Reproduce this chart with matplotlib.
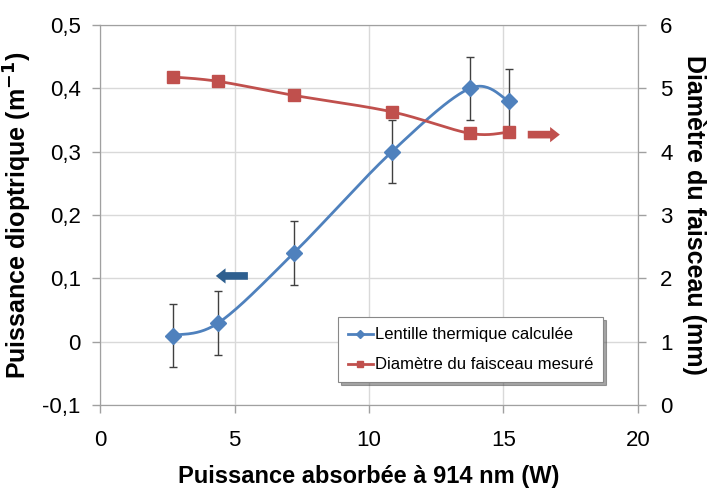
import numpy as np
import matplotlib
matplotlib.use("Agg")
import matplotlib.pyplot as plt
from matplotlib.ticker import FuncFormatter

plt.rcParams['font.family'] = ['Liberation Sans', 'DejaVu Sans']

# donnees
puissance = [2.7, 4.4, 7.2, 10.85, 13.75, 15.2]
lentille = [0.01, 0.03, 0.14, 0.30, 0.40, 0.38]
erreur = [0.05, 0.05, 0.05, 0.05, 0.05, 0.05]
diametre = [5.18, 5.11, 4.89, 4.63, 4.29, 4.31]

blue = '#4F81BD'
red = '#C0504D'


def lisse(x, y, n=30):
    # courbe lissee type Excel (Catmull-Rom)
    x = np.asarray(x, float)
    y = np.asarray(y, float)
    px = np.concatenate([[x[0]], x, [x[-1]]])
    py = np.concatenate([[y[0]], y, [y[-1]]])
    xs, ys = [], []
    t = np.linspace(0, 1, n)
    for i in range(1, len(px) - 2):
        p0, p1, p2, p3 = [np.array([px[j], py[j]]) for j in range(i - 1, i + 3)]
        c1 = p1 + (p2 - p0) / 6
        c2 = p2 - (p3 - p1) / 6
        pts = ((1 - t) ** 3)[:, None] * p1 + (3 * (1 - t) ** 2 * t)[:, None] * c1 \
            + (3 * (1 - t) * t ** 2)[:, None] * c2 + (t ** 3)[:, None] * p2
        xs.extend(pts[:, 0])
        ys.extend(pts[:, 1])
    return xs, ys


fig, ax = plt.subplots(figsize=(7.2, 4.9), dpi=100)
fig.subplots_adjust(left=0.139, right=0.886, top=0.949, bottom=0.173)
ax2 = ax.twinx()

sx, sy = lisse(puissance, lentille)
ax.plot(sx, sy, color=blue, lw=2)
ax.errorbar(puissance, lentille, yerr=erreur, fmt='none', ecolor='#404040',
            elinewidth=1, capsize=3)
ax.plot(puissance, lentille, 'D', color=blue, ms=8)

rx, ry = lisse(puissance, diametre)
ax2.plot(rx, ry, color=red, lw=2)
ax2.plot(puissance, diametre, 's', color=red, ms=9)

# legend handles
h1, = ax.plot([], [], '-D', color=blue, ms=4, lw=2, label='Lentille thermique calculée')
h2, = ax.plot([], [], '-s', color=red, ms=5, lw=2, label='Diamètre du faisceau mesuré')

# fleches
ax.annotate('', xy=(4.2, 0.104), xytext=(5.6, 0.104),
            arrowprops=dict(arrowstyle='simple,head_width=1.1,head_length=0.7,tail_width=0.55',
                            color='#2E5F8F', lw=0))
ax2.annotate('', xy=(17.2, 4.27), xytext=(15.8, 4.27),
             arrowprops=dict(arrowstyle='simple,head_width=1.1,head_length=0.7,tail_width=0.55',
                             color=red, lw=0))

ax.set_xlim(0, 20)
ax.set_ylim(-0.1, 0.5)
ax2.set_ylim(0, 6)
ax.set_xticks([0, 5, 10, 15, 20])
ax.set_yticks(np.arange(-0.1, 0.51, 0.1))
ax2.set_yticks(range(0, 7))
ax.yaxis.set_major_formatter(FuncFormatter(lambda v, p: ('%g' % round(v, 2)).replace('.', ',')))

ax.grid(True, color='#D9D9D9', lw=1)
ax.set_axisbelow(True)
for a in (ax, ax2):
    for s in a.spines.values():
        s.set_color('#A0A0A0')
    a.tick_params(colors='#A0A0A0', labelcolor='black', labelsize=16, length=6, width=1)
ax.tick_params(axis='x', pad=12)
ax.tick_params(axis='y', pad=8)
ax2.tick_params(axis='y', pad=10)

ax.set_xlabel('Puissance absorbée à 914 nm (W)', fontsize=17, fontweight='bold', labelpad=10)
ax.set_ylabel('Puissance dioptrique (m$^{\\mathbf{-1}}$)', fontsize=18, fontweight='bold',
              labelpad=6)
ax2.set_ylabel('Diamètre du faisceau (mm)', fontsize=18, fontweight='bold',
               rotation=-90, labelpad=24)

leg = ax.legend(handles=[h1, h2], loc='lower right', bbox_to_anchor=(0.935, 0.06),
                fontsize=12, frameon=True, fancybox=False, shadow=True,
                handlelength=1.5, handletextpad=0.1, labelspacing=0.9,
                borderpad=0.6, borderaxespad=0, edgecolor='#888888')
leg.get_frame().set_linewidth(0.8)

fig.savefig('out.png', dpi=100)
